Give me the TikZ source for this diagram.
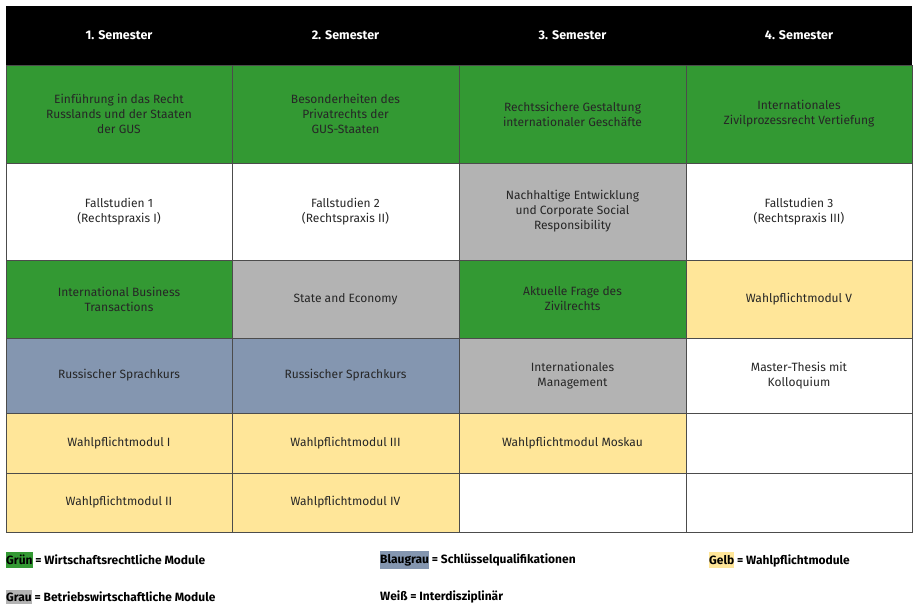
\documentclass[tikz,border=0pt]{standalone}
\usepackage{fontspec}
\setmainfont{Fira Sans}
\definecolor{gr}{HTML}{339933}
\definecolor{gy}{HTML}{B3B3B3}
\definecolor{bg}{HTML}{8496B0}
\definecolor{ye}{HTML}{FFE699}
\begin{document}
\begin{tikzpicture}[x=1pt,y=-1pt,
  cell/.style={draw=black!70,line width=0.6pt,inner sep=2pt,align=center,font=\fontsize{12}{15}\selectfont\color{black!85}},
  head/.style={fill=black,text=white,minimum height=59pt,minimum width=226.5pt,font=\fontsize{12.5}{15}\selectfont\bfseries,align=center},
  leg/.style={anchor=west,font=\fontsize{12}{14}\selectfont\bfseries,inner sep=0pt}]
\useasboundingbox (0,0) rectangle (919,614);
\fill[white] (0,0) rectangle (919,614);
\fill[black] (6,6) rectangle (912,65);
\foreach \n/\x/\t in {h1/119/1. Semester,h2/345.5/2. Semester,h3/572.5/3. Semester,h4/799/4. Semester}
  \node[head] (\n) at (\x,35.5) {\t};
% cell macro: name, col x0, x1, y0, y1, colour, text
\newcommand\cellat[7]{\node[cell,fill=#6,minimum width=#3pt-#2pt,minimum height=#5pt-#4pt] (#1) at ({(#2+#3)/2},{(#4+#5)/2}) {#7};}
\def\xa{6}\def\xb{232}\def\xc{459}\def\xd{686}\def\xe{912}
% row 1
\cellat{a1}{6}{232}{65}{163}{gr}{Einführung in das Recht\\Russlands und der Staaten\\der GUS}
\cellat{b1}{232}{459}{65}{163}{gr}{Besonderheiten des\\Privatrechts der\\GUS-Staaten}
\cellat{c1}{459}{686}{65}{163}{gr}{Rechtssichere Gestaltung\\internationaler Geschäfte}
\cellat{d1}{686}{912}{65}{163}{gr}{Internationales\\Zivilprozessrecht Vertiefung}
% row 2
\cellat{a2}{6}{232}{163}{260}{white}{Fallstudien 1\\(Rechtspraxis I)}
\cellat{b2}{232}{459}{163}{260}{white}{Fallstudien 2\\(Rechtspraxis II)}
\cellat{c2}{459}{686}{163}{260}{gy}{Nachhaltige Entwicklung\\und Corporate Social\\Responsibility}
\cellat{d2}{686}{912}{163}{260}{white}{Fallstudien 3\\(Rechtspraxis III)}
% row 3
\cellat{a3}{6}{232}{260}{338}{gr}{International Business\\Transactions}
\cellat{b3}{232}{459}{260}{338}{gy}{State and Economy}
\cellat{c3}{459}{686}{260}{338}{gr}{Aktuelle Frage des\\Zivilrechts}
\cellat{d3}{686}{912}{260}{338}{ye}{Wahlpflichtmodul V}
% row 4
\cellat{a4}{6}{232}{338}{413}{bg}{Russischer Sprachkurs}
\cellat{b4}{232}{459}{338}{413}{bg}{Russischer Sprachkurs}
\cellat{c4}{459}{686}{338}{413}{gy}{Internationales\\Management}
\cellat{d4}{686}{912}{338}{413}{white}{Master-Thesis mit\\Kolloquium}
% row 5
\cellat{a5}{6}{232}{413}{473}{ye}{Wahlpflichtmodul I}
\cellat{b5}{232}{459}{413}{473}{ye}{Wahlpflichtmodul III}
\cellat{c5}{459}{686}{413}{473}{ye}{Wahlpflichtmodul Moskau}
\cellat{d5}{686}{912}{413}{473}{white}{}
% row 6
\cellat{a6}{6}{232}{473}{532}{ye}{Wahlpflichtmodul II}
\cellat{b6}{232}{459}{473}{532}{ye}{Wahlpflichtmodul IV}
\cellat{c6}{459}{686}{473}{532}{white}{}
\cellat{d6}{686}{912}{473}{532}{white}{}
% legend
\node[leg] (l1) at (6,560) {\colorbox{gr}{\hspace{-3pt}Grün\hspace{-3pt}} = Wirtschaftsrechtliche Module};
\node[leg] (l2) at (6,597) {\colorbox{gy}{\hspace{-3pt}Grau\hspace{-3pt}} = Betriebswirtschaftliche Module};
\node[leg] (l3) at (380,560) {\colorbox{bg}{\hspace{-3pt}Blaugrau\hspace{-3pt}} = Schlüsselqualifikationen};
\node[leg] (l4) at (380,597) {Weiß = Interdisziplinär};
\node[leg] (l5) at (709,560) {\colorbox{ye}{\hspace{-3pt}Gelb\hspace{-3pt}} = Wahlpflichtmodule};
\end{tikzpicture}
\end{document}
